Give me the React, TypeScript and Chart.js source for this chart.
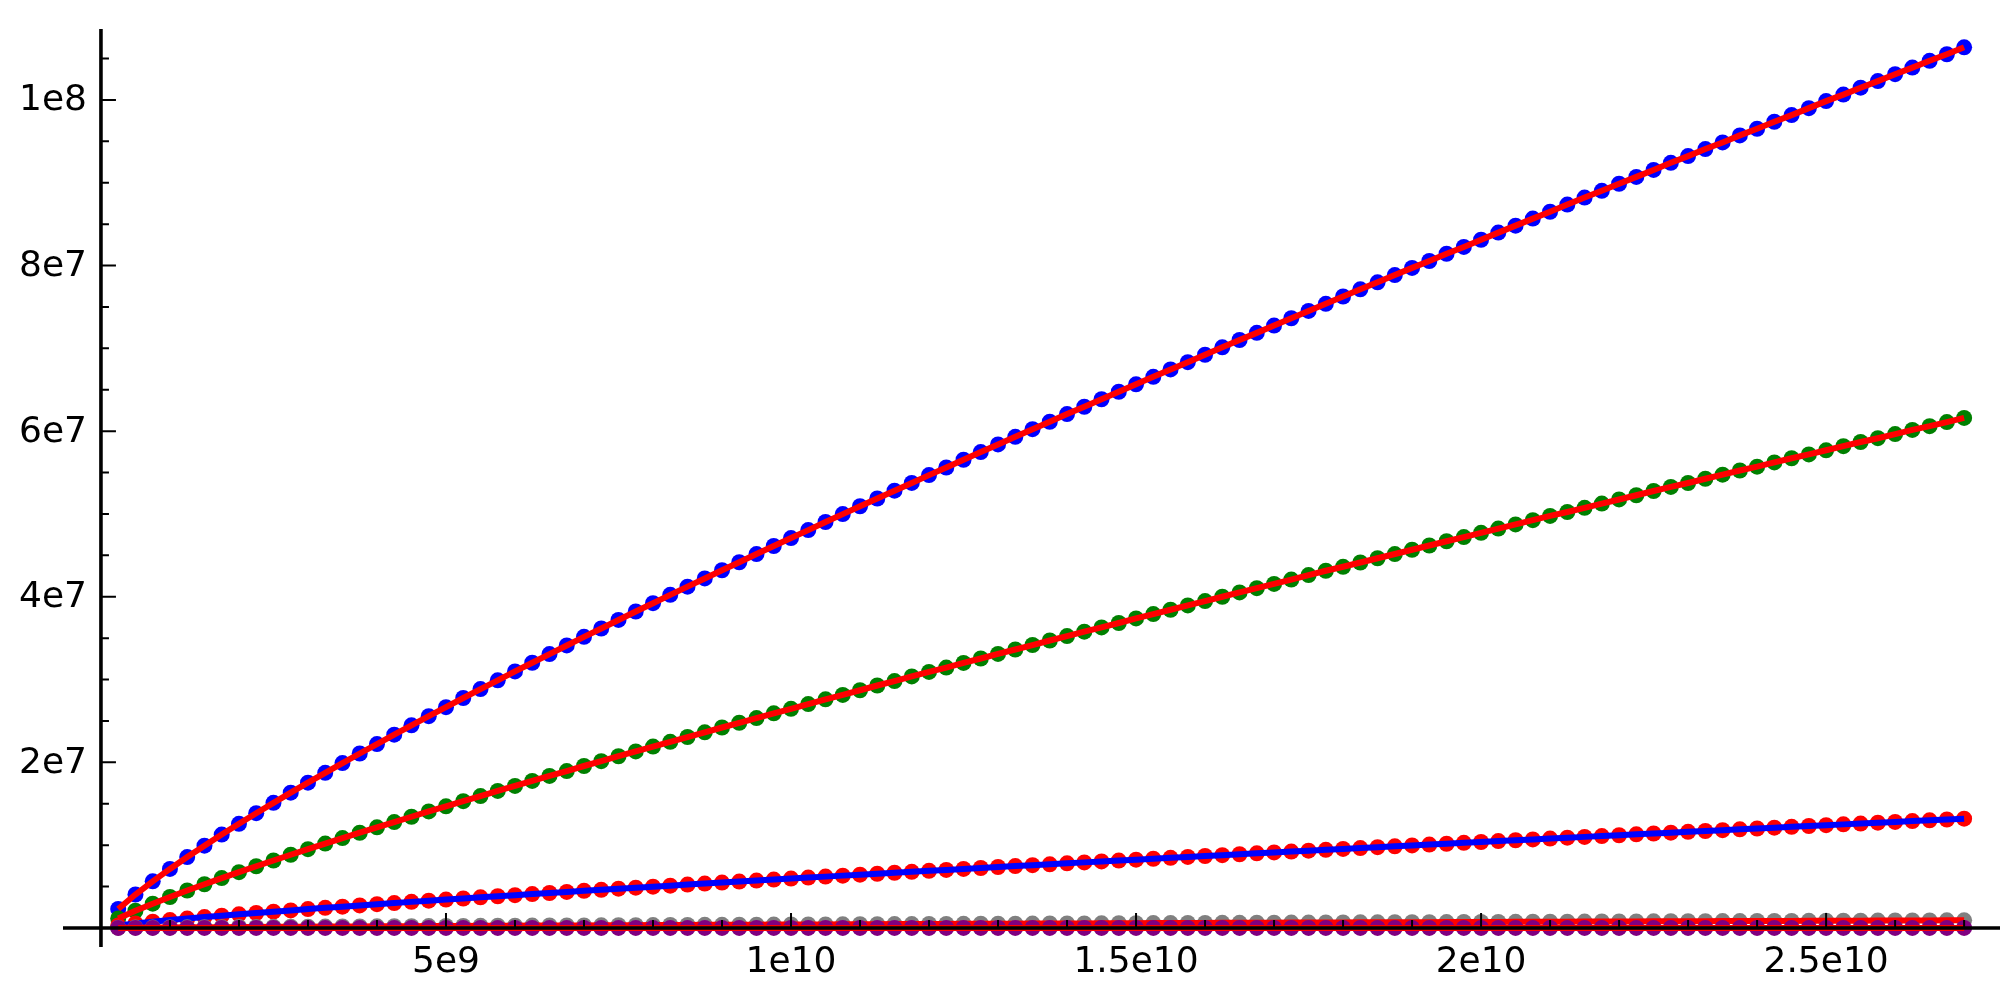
import React, { useEffect, useRef } from "react";
import { Chart, registerables } from "chart.js";

Chart.register(...registerables);

// x positions, in units of 1e9
const xBillions = [
  0.25, 0.5, 0.75, 1, 1.25, 1.5, 1.75, 2, 2.25, 2.5, 2.75, 3, 3.25, 3.5, 3.75, 4, 4.25, 4.5, 4.75, 5,
  5.25, 5.5, 5.75, 6, 6.25, 6.5, 6.75, 7, 7.25, 7.5, 7.75, 8, 8.25, 8.5, 8.75, 9, 9.25, 9.5, 9.75, 10,
  10.25, 10.5, 10.75, 11, 11.25, 11.5, 11.75, 12, 12.25, 12.5, 12.75, 13, 13.25, 13.5, 13.75, 14, 14.25, 14.5, 14.75, 15,
  15.25, 15.5, 15.75, 16, 16.25, 16.5, 16.75, 17, 17.25, 17.5, 17.75, 18, 18.25, 18.5, 18.75, 19, 19.25, 19.5, 19.75, 20,
  20.25, 20.5, 20.75, 21, 21.25, 21.5, 21.75, 22, 22.25, 22.5, 22.75, 23, 23.25, 23.5, 23.75, 24, 24.25, 24.5, 24.75, 25,
  25.25, 25.5, 25.75, 26, 26.25, 26.5, 26.75, 27,
];

// series values, in units of 1e6
const blueSeries = [
  2.29, 4.04, 5.63, 7.13, 8.56, 9.94, 11.28, 12.58, 13.86, 15.11,
  16.34, 17.55, 18.73, 19.91, 21.07, 22.21, 23.34, 24.47, 25.58, 26.67,
  27.77, 28.85, 29.91, 30.98, 32.03, 33.08, 34.12, 35.16, 36.17, 37.2,
  38.22, 39.22, 40.23, 41.22, 42.21, 43.2, 44.17, 45.16, 46.13, 47.09,
  48.05, 49.03, 49.98, 50.93, 51.87, 52.81, 53.75, 54.69, 55.61, 56.55,
  57.47, 58.4, 59.32, 60.24, 61.14, 62.06, 62.95, 63.85, 64.76, 65.66,
  66.56, 67.46, 68.33, 69.23, 70.12, 71.01, 71.87, 72.75, 73.64, 74.52,
  75.38, 76.26, 77.13, 77.98, 78.85, 79.72, 80.55, 81.43, 82.25, 83.12,
  83.98, 84.82, 85.67, 86.5, 87.37, 88.21, 89.03, 89.88, 90.71, 91.55,
  92.41, 93.22, 94.07, 94.87, 95.72, 96.52, 97.37, 98.17, 99.01, 99.86,
  100.65, 101.48, 102.28, 103.11, 103.91, 104.73, 105.52, 106.36,
];

const greenSeries = [
  1.15, 2.08, 2.93, 3.74, 4.52, 5.28, 6.02, 6.74, 7.45, 8.15,
  8.84, 9.52, 10.19, 10.85, 11.5, 12.15, 12.79, 13.43, 14.07, 14.69,
  15.31, 15.93, 16.55, 17.15, 17.76, 18.36, 18.95, 19.56, 20.14, 20.74,
  21.32, 21.9, 22.48, 23.06, 23.63, 24.21, 24.78, 25.35, 25.92, 26.47,
  27.04, 27.61, 28.15, 28.71, 29.28, 29.82, 30.38, 30.92, 31.45, 32.01,
  32.54, 33.1, 33.63, 34.17, 34.72, 35.25, 35.78, 36.3, 36.83, 37.38,
  37.91, 38.43, 38.95, 39.48, 40.0, 40.52, 41.04, 41.55, 42.07, 42.62,
  43.14, 43.62, 44.14, 44.65, 45.16, 45.68, 46.19, 46.7, 47.21, 47.72,
  48.23, 48.74, 49.25, 49.76, 50.24, 50.74, 51.25, 51.75, 52.26, 52.77,
  53.27, 53.74, 54.25, 54.75, 55.25, 55.71, 56.22, 56.73, 57.19, 57.69,
  58.19, 58.69, 59.15, 59.65, 60.15, 60.6, 61.1, 61.6,
];

const redSeries = [
  0.31, 0.54, 0.75, 0.95, 1.13, 1.31, 1.48, 1.65, 1.81, 1.97,
  2.12, 2.28, 2.43, 2.57, 2.72, 2.87, 3.01, 3.15, 3.29, 3.43,
  3.56, 3.7, 3.83, 3.96, 4.09, 4.22, 4.35, 4.48, 4.61, 4.74,
  4.86, 4.99, 5.11, 5.24, 5.36, 5.48, 5.6, 5.72, 5.84, 5.96,
  6.08, 6.2, 6.32, 6.44, 6.55, 6.67, 6.78, 6.9, 7.01, 7.13,
  7.24, 7.36, 7.47, 7.58, 7.69, 7.81, 7.92, 8.03, 8.14, 8.25,
  8.36, 8.47, 8.58, 8.69, 8.79, 8.9, 9.01, 9.12, 9.22, 9.33,
  9.44, 9.54, 9.65, 9.76, 9.86, 9.97, 10.07, 10.17, 10.28, 10.38,
  10.49, 10.59, 10.69, 10.8, 10.9, 11.0, 11.1, 11.2, 11.31, 11.41,
  11.51, 11.61, 11.71, 11.81, 11.91, 12.01, 12.11, 12.21, 12.31, 12.41,
  12.51, 12.61, 12.71, 12.81, 12.91, 13.0, 13.1, 13.2,
];

const graySeries = [
  0.02, 0.04, 0.05, 0.07, 0.08, 0.09, 0.1, 0.12, 0.13, 0.14,
  0.15, 0.16, 0.17, 0.18, 0.19, 0.2, 0.21, 0.22, 0.23, 0.24,
  0.25, 0.26, 0.27, 0.28, 0.29, 0.3, 0.3, 0.31, 0.32, 0.33,
  0.34, 0.35, 0.36, 0.37, 0.38, 0.38, 0.39, 0.4, 0.41, 0.42,
  0.43, 0.43, 0.44, 0.45, 0.46, 0.47, 0.47, 0.48, 0.49, 0.5,
  0.51, 0.52, 0.52, 0.53, 0.54, 0.55, 0.55, 0.56, 0.57, 0.58,
  0.59, 0.59, 0.6, 0.61, 0.62, 0.62, 0.63, 0.64, 0.65, 0.65,
  0.66, 0.67, 0.68, 0.68, 0.69, 0.7, 0.7, 0.71, 0.72, 0.73,
  0.73, 0.74, 0.75, 0.76, 0.76, 0.77, 0.78, 0.78, 0.79, 0.8,
  0.81, 0.81, 0.82, 0.83, 0.83, 0.84, 0.85, 0.85, 0.86, 0.87,
  0.88, 0.88, 0.89, 0.9, 0.9, 0.91, 0.92, 0.92,
];

const purpleSeries = [
  0, 0, 0, 0, 0, 0, 0, 0, 0, 0,
  0, 0, 0, 0, 0, 0, 0, 0, 0, 0,
  0, 0, 0, 0, 0, 0, 0, 0, 0, 0,
  0, 0, 0, 0, 0, 0, 0, 0, 0, 0,
  0, 0, 0, 0, 0, 0, 0, 0, 0, 0,
  0, 0, 0, 0, 0, 0, 0, 0, 0, 0,
  0, 0, 0, 0, 0, 0, 0, 0, 0, 0,
  0, 0, 0, 0, 0, 0, 0, 0, 0, 0,
  0, 0, 0, 0, 0, 0, 0, 0, 0, 0,
  0, 0, 0, 0, 0, 0, 0, 0, 0, 0,
  0, 0, 0, 0, 0, 0, 0, 0,
];

const xMajorTicks = [5e9, 1e10, 1.5e10, 2e10, 2.5e10];
const xTickLabels = ["5e9", "1e10", "1.5e10", "2e10", "2.5e10"];
const xMinorTicks = [
  1e9, 2e9, 3e9, 4e9, 6e9, 7e9, 8e9, 9e9, 11e9, 12e9, 13e9, 14e9, 16e9, 17e9, 18e9, 19e9,
  21e9, 22e9, 23e9, 24e9, 26e9, 27e9,
];
const yMajorTicks = [2e7, 4e7, 6e7, 8e7, 1e8];
const yTickLabels = ["2e7", "4e7", "6e7", "8e7", "1e8"];
const yMinorTicks = [
  5e6, 10e6, 15e6, 25e6, 30e6, 35e6, 45e6, 50e6, 55e6, 65e6, 70e6, 75e6, 85e6, 90e6, 95e6, 105e6,
];

const X_MIN = -0.55e9;
const X_MAX = 27.52e9;
const Y_MIN = -2.3e6;
const Y_MAX = 108.57e6;

const toPoints = (vals: number[]) => xBillions.map((x, i) => ({ x: x * 1e9, y: vals[i] * 1e6 }));

const lineSet = (vals: number[], color: string) => ({
  data: toPoints(vals),
  showLine: true,
  borderColor: color,
  backgroundColor: color,
  borderWidth: 6,
  pointRadius: 0,
  pointHoverRadius: 0,
  tension: 0,
  fill: false,
});

const dotSet = (vals: number[], color: string) => ({
  data: toPoints(vals),
  showLine: false,
  backgroundColor: color,
  borderColor: color,
  borderWidth: 0,
  pointRadius: 8,
  pointHoverRadius: 8,
});

const sageAxes = {
  id: "sageAxes",
  afterDatasetsDraw(chart: any) {
    const { ctx, chartArea, scales } = chart;
    const xs = scales.x;
    const ys = scales.y;
    const x0 = xs.getPixelForValue(0);
    const y0 = ys.getPixelForValue(0);
    ctx.save();
    ctx.strokeStyle = "#000";
    ctx.fillStyle = "#000";
    ctx.lineCap = "butt";
    // axis lines
    ctx.lineWidth = 3.6;
    ctx.beginPath();
    ctx.moveTo(chartArea.left, y0);
    ctx.lineTo(chartArea.right, y0);
    ctx.moveTo(x0, chartArea.top);
    ctx.lineTo(x0, chartArea.bottom);
    ctx.stroke();
    // ticks
    ctx.lineWidth = 2;
    ctx.beginPath();
    xMajorTicks.forEach((v) => {
      const px = xs.getPixelForValue(v);
      ctx.moveTo(px, y0);
      ctx.lineTo(px, y0 - 15);
    });
    xMinorTicks.forEach((v) => {
      const px = xs.getPixelForValue(v);
      ctx.moveTo(px, y0);
      ctx.lineTo(px, y0 - 8);
    });
    yMajorTicks.forEach((v) => {
      const py = ys.getPixelForValue(v);
      ctx.moveTo(x0, py);
      ctx.lineTo(x0 + 15, py);
    });
    yMinorTicks.forEach((v) => {
      const py = ys.getPixelForValue(v);
      ctx.moveTo(x0, py);
      ctx.lineTo(x0 + 8, py);
    });
    ctx.stroke();
    // labels
    ctx.font = "36px 'DejaVu Sans'";
    ctx.textBaseline = "alphabetic";
    ctx.textAlign = "center";
    xMajorTicks.forEach((v, i) => {
      ctx.fillText(xTickLabels[i], xs.getPixelForValue(v), y0 + 44);
    });
    ctx.textAlign = "right";
    yMajorTicks.forEach((v, i) => {
      ctx.fillText(yTickLabels[i], x0 - 14, ys.getPixelForValue(v) + 10.5);
    });
    ctx.restore();
  },
};

export default function App() {
  const canvasRef = useRef<HTMLCanvasElement | null>(null);

  useEffect(() => {
    if (!canvasRef.current) return;
    const chart = new Chart(canvasRef.current, {
      type: "scatter",
      data: {
        datasets: [
          lineSet(purpleSeries, "#ff0000"),
          dotSet(purpleSeries, "#800080"),
          lineSet(graySeries, "#ff0000"),
          dotSet(graySeries, "#808080"),
          lineSet(redSeries, "#0000ff"),
          dotSet(redSeries, "#ff0000"),
          lineSet(greenSeries, "#ff0000"),
          dotSet(greenSeries, "#008000"),
          lineSet(blueSeries, "#ff0000"),
          dotSet(blueSeries, "#0000ff"),
        ] as any,
      },
      options: {
        animation: false,
        responsive: false,
        devicePixelRatio: 1,
        events: [],
        layout: { padding: { left: 63, top: 29, right: 12, bottom: 50 } },
        plugins: {
          legend: { display: false },
          tooltip: { enabled: false },
        },
        scales: {
          x: { type: "linear", display: false, min: X_MIN, max: X_MAX },
          y: { type: "linear", display: false, min: Y_MIN, max: Y_MAX },
        },
      },
      plugins: [sageAxes],
    });
    return () => chart.destroy();
  }, []);

  return (
    <div style={{ position: "absolute", left: 0, top: 0, width: 2012, height: 997, background: "#fff" }}>
      <canvas ref={canvasRef} width={2012} height={997} style={{ display: "block" }} />
    </div>
  );
}
